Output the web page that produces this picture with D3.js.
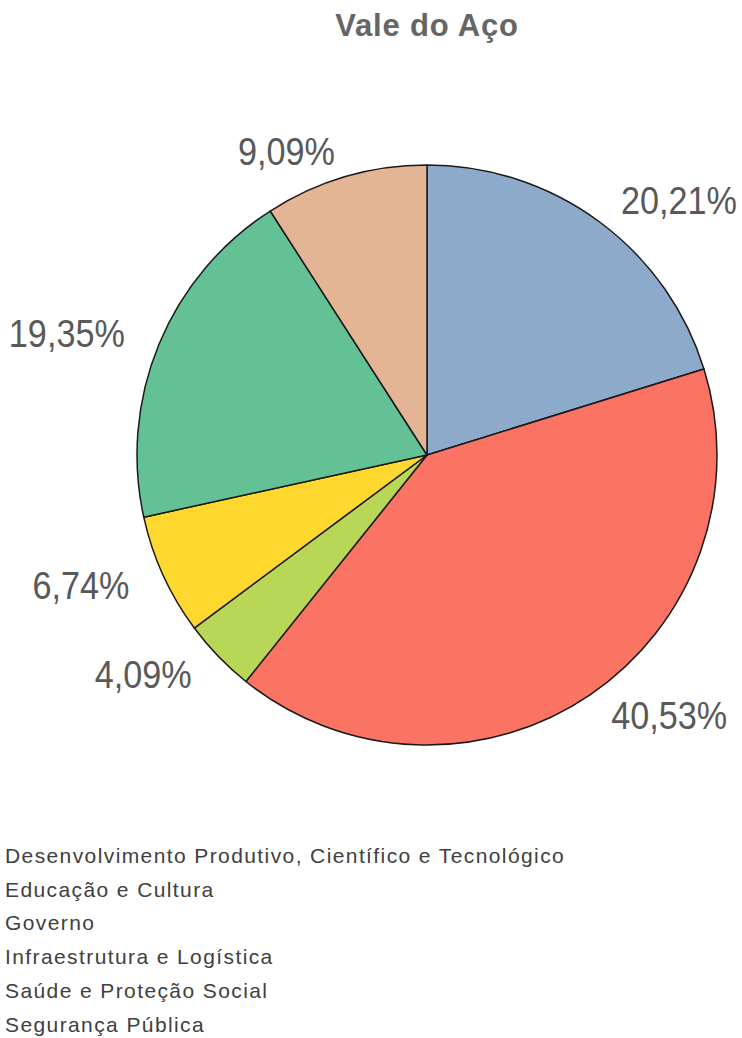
<!DOCTYPE html>
<html><head><meta charset="utf-8">
<script src="https://cdn.jsdelivr.net/npm/d3@7"></script>
<style>html,body{margin:0;padding:0;background:#fff;}</style>
</head><body>
<script>
const title = "Vale do Aço";
const categories = [
  "Desenvolvimento Produtivo, Científico e Tecnológico",
  "Educação e Cultura",
  "Governo",
  "Infraestrutura e Logística",
  "Saúde e Proteção Social",
  "Segurança Pública"
];
const values = [20.21, 40.53, 4.09, 6.74, 19.35, 9.09];
const labels = ["20,21%", "40,53%", "4,09%", "6,74%", "19,35%", "9,09%"];
const colors = ["#8DAACB", "#FA7363", "#B9D756", "#FED82F", "#64C195", "#E4B594"];

const W = 742, H = 1038;
const cx = 427, cy = 455, R = 290;
const svg = d3.select("body").append("svg").attr("width", W).attr("height", H)
  .style("font-family", "'Liberation Sans',Arial,sans-serif");

svg.append("text").attr("x", 427).attr("y", 36).attr("text-anchor", "middle")
  .style("font-weight", "bold").style("font-size", "31px").style("letter-spacing", "0.8px")
  .attr("fill", "#666")
  .text(title);

const color = d3.scaleOrdinal().domain(categories).range(colors);
const pie = d3.pie().sort(null).value(d => d.v);
const data = categories.map((c, i) => ({c, v: values[i], l: labels[i]}));
const arcs = pie(data);
const arc = d3.arc().innerRadius(0).outerRadius(R);

const g = svg.append("g").attr("transform", `translate(${cx},${cy})`);
g.selectAll("path").data(arcs).join("path")
  .attr("d", arc).attr("fill", d => color(d.data.c))
  .attr("stroke", "#1a1a1a").attr("stroke-width", 1.5).attr("stroke-linejoin", "round");

const labRx = 327, labRy = 316;
g.selectAll("text.lbl").data(arcs).join("text").attr("class", "lbl")
  .style("font-size", "38px").attr("fill", "#595959")
  .attr("dominant-baseline", "central")
  .attr("text-anchor", d => Math.sin((d.startAngle + d.endAngle) / 2) >= 0 ? "start" : "end")
  .attr("transform", d => {
    const a = (d.startAngle + d.endAngle) / 2;
    return `translate(${labRx * Math.sin(a)},${-labRy * Math.cos(a)}) scale(0.9,1)`;
  })
  .text(d => d.data.l);

const leg = svg.append("g");
leg.selectAll("text").data(categories).join("text")
  .attr("x", 5).attr("y", (d, i) => 863 + i * 33.7)
  .style("font-size", "21px").style("letter-spacing", "1.4px").attr("fill", "#404040")
  .text(d => d);
</script>
</body></html>
